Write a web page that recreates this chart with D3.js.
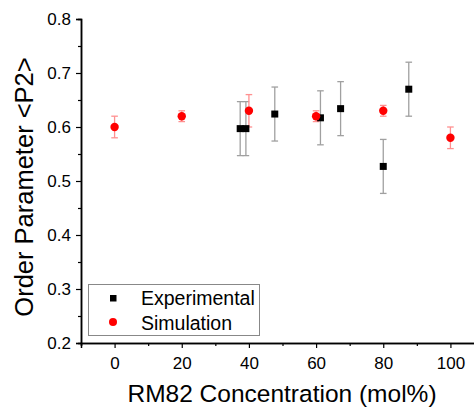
<!DOCTYPE html>
<html>
<head>
<meta charset="utf-8">
<script src="https://cdn.jsdelivr.net/npm/d3@7"></script>
<style>
  body { margin: 0; background: #fff; }
  svg { font-family: Arial, "Liberation Sans", sans-serif; }
</style>
</head>
<body>
<svg width="474" height="408"></svg>
<script>
// experimental points
const expX = [37.4, 39.1, 47.7, 61.3, 67.3, 80.0, 87.6];
const expY = [0.597, 0.597, 0.624, 0.617, 0.634, 0.527, 0.670];
const expErr = [0.05, 0.05, 0.05, 0.05, 0.05, 0.05, 0.05];

// simulation points
const simX = [0, 20, 40, 60, 80, 100];
const simY = [0.600, 0.620, 0.630, 0.620, 0.630, 0.580];
const simErr = [0.02, 0.01, 0.03, 0.01, 0.01, 0.02];

const xTicks = [0, 20, 40, 60, 80, 100];
const yTicks = [0.2, 0.3, 0.4, 0.5, 0.6, 0.7, 0.8];

const svg = d3.select("svg");

// scales
const x = d3.scaleLinear().domain([-10, 110]).range([81, 484]);
const y = d3.scaleLinear().domain([0.2, 0.8]).range([343, 19]);

// axes
svg.append("g").attr("transform", "translate(0,343)")
  .call(d3.axisBottom(x).tickValues(xTicks).tickSizeOuter(0).tickSize(5).tickPadding(9));
svg.append("g").attr("transform", "translate(0,343)")
  .call(d3.axisBottom(x).tickValues(d3.range(-10, 111, 20)).tickSizeOuter(0).tickSize(3).tickFormat(""));

svg.append("g").attr("transform", "translate(81,0)")
  .call(d3.axisLeft(y).tickValues(yTicks).tickSizeOuter(0).tickSize(5).tickPadding(5).tickFormat(d3.format(".1f")));
svg.append("g").attr("transform", "translate(81,0)")
  .call(d3.axisLeft(y).tickValues(d3.range(0.25, 0.8, 0.1)).tickSizeOuter(0).tickSize(3).tickFormat(""));

svg.selectAll(".domain").attr("stroke", "#000").attr("stroke-width", 1.5);
svg.selectAll(".tick line").attr("stroke", "#000").attr("stroke-width", 1.2);
svg.selectAll(".tick text").attr("font-size", 17).attr("fill", "#000")
  .attr("font-family", "Arial, 'Liberation Sans', sans-serif");

// axis titles
svg.append("text")
  .attr("x", 282).attr("y", 402)
  .attr("text-anchor", "middle").attr("font-size", 24.5)
  .text("RM82 Concentration (mol%)");
svg.append("text")
  .attr("transform", "translate(33,187) rotate(-90)")
  .attr("text-anchor", "middle").attr("font-size", 25.5)
  .text("Order Parameter <P2>");

// error bars
function errBars(xs, ys, es, color) {
  const g = svg.append("g").attr("stroke", color).attr("stroke-width", 1.3);
  xs.forEach((xv, i) => {
    const cx = x(xv), top = y(ys[i] + es[i]), bot = y(ys[i] - es[i]);
    g.append("line").attr("x1", cx).attr("x2", cx).attr("y1", top).attr("y2", bot);
    g.append("line").attr("x1", cx - 3.3).attr("x2", cx + 3.3).attr("y1", top).attr("y2", top);
    g.append("line").attr("x1", cx - 3.3).attr("x2", cx + 3.3).attr("y1", bot).attr("y2", bot);
  });
}
errBars(expX, expY, expErr, "#a0a0a0");
errBars(simX, simY, simErr, "#ff9090");

// markers
svg.append("g").selectAll("rect")
  .data(expX)
  .enter()
  .append("rect")
  .attr("x", (d) => x(d) - 3.5)
  .attr("y", (d, i) => y(expY[i]) - 3.5)
  .attr("width", 7).attr("height", 7)
  .attr("fill", "#000");

svg.append("g").selectAll("circle")
  .data(simX)
  .enter()
  .append("circle")
  .attr("cx", (d) => x(d))
  .attr("cy", (d, i) => y(simY[i]))
  .attr("r", 4.2)
  .attr("fill", "#ff0000");

// legend
const lg = svg.append("g");
lg.append("rect").attr("x", 88.5).attr("y", 284.5).attr("width", 171).attr("height", 51)
  .attr("fill", "#fff").attr("stroke", "#888").attr("stroke-width", 1);
lg.append("rect").attr("x", 110).attr("y", 295).attr("width", 6.5).attr("height", 6.5).attr("fill", "#000");
lg.append("circle").attr("cx", 113).attr("cy", 322).attr("r", 4).attr("fill", "#ff0000");
lg.append("text").attr("x", 141).attr("y", 305).attr("font-size", 19.5).text("Experimental");
lg.append("text").attr("x", 141).attr("y", 329.5).attr("font-size", 19.5).text("Simulation");
</script>
</body>
</html>
